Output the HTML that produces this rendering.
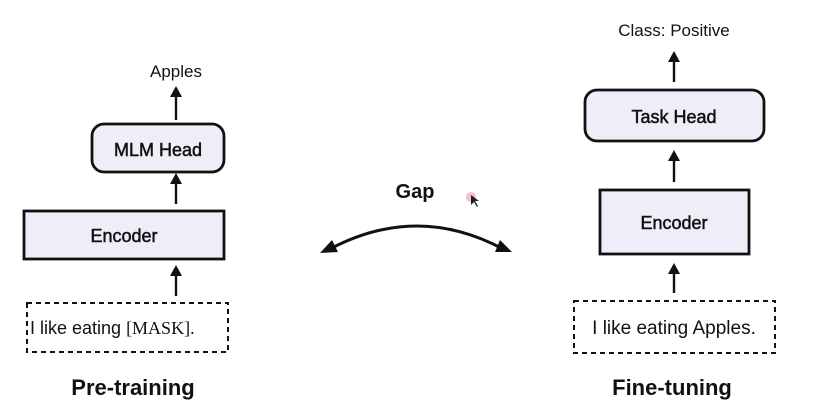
<!DOCTYPE html>
<html><head><meta charset="utf-8"><style>
html,body{margin:0;padding:0;background:#fff;}
svg{display:block;font-family:"Liberation Sans",Arial,sans-serif;}
</style></head><body>
<svg width="814" height="418" viewBox="0 0 814 418" xmlns="http://www.w3.org/2000/svg">
<g fill="#111" font-size="17">
<text x="176" y="77" text-anchor="middle">Apples</text>
<text x="674" y="36" text-anchor="middle">Class: Positive</text>
</g>
<g stroke="#111" stroke-width="2.4">
<line x1="176" y1="120" x2="176" y2="91"/><path d="M170,97 L176,86 L182,97 Z" fill="#111" stroke="none"/>
<line x1="176" y1="204" x2="176" y2="178"/><path d="M170,184 L176,173 L182,184 Z" fill="#111" stroke="none"/>
<line x1="176" y1="296" x2="176" y2="270"/><path d="M170,276 L176,265 L182,276 Z" fill="#111" stroke="none"/>
<line x1="674" y1="82" x2="674" y2="56"/><path d="M668,62 L674,51 L680,62 Z" fill="#111" stroke="none"/>
<line x1="674" y1="182" x2="674" y2="155"/><path d="M668,161 L674,150 L680,161 Z" fill="#111" stroke="none"/>
<line x1="674" y1="293" x2="674" y2="268"/><path d="M668,274 L674,263 L680,274 Z" fill="#111" stroke="none"/>
</g>
<g fill="#eeeef8" stroke="#111" stroke-width="2.8">
<rect x="92" y="124" width="132" height="48" rx="12"/>
<rect x="24" y="211" width="200" height="48"/>
<rect x="585" y="90" width="179" height="51" rx="12"/>
<rect x="600" y="190" width="149" height="64"/>
</g>
<g fill="none" stroke="#111" stroke-width="2" stroke-dasharray="5,4">
<rect x="27" y="303" width="201" height="49"/>
<rect x="574" y="301" width="201" height="52"/>
</g>
<g fill="#111" stroke="#111" stroke-width="0.5" font-size="18" text-anchor="middle">
<text x="158" y="156">MLM Head</text>
<text x="124" y="242">Encoder</text>
<text x="674" y="123">Task Head</text>
<text x="674" y="229">Encoder</text>
</g>
<text x="30" y="334" font-size="18" fill="#111">I like eating <tspan font-family="'Liberation Serif',serif">[MASK].</tspan></text>
<text x="674" y="334" font-size="19" fill="#111" text-anchor="middle">I like eating Apples.</text>
<g fill="#111" font-size="22" font-weight="bold" text-anchor="middle">
<text x="133" y="395">Pre-training</text>
<text x="672" y="395">Fine-tuning</text>
<text x="415" y="198" font-size="20">Gap</text>
</g>
<path d="M330,249 Q417,203 503,249" fill="none" stroke="#111" stroke-width="3"/>
<path d="M320,253 L332,240 L338,252 Z" fill="#111"/>
<path d="M512,252 L500,240 L495,252 Z" fill="#111"/>
<circle cx="471" cy="197" r="5" fill="#f3c0c8"/>
<path d="M471,195 L471,205 L474,202 L477,207 L478,206 L475,201 L479,201 Z" fill="#222"/>
</svg>
</body></html>
